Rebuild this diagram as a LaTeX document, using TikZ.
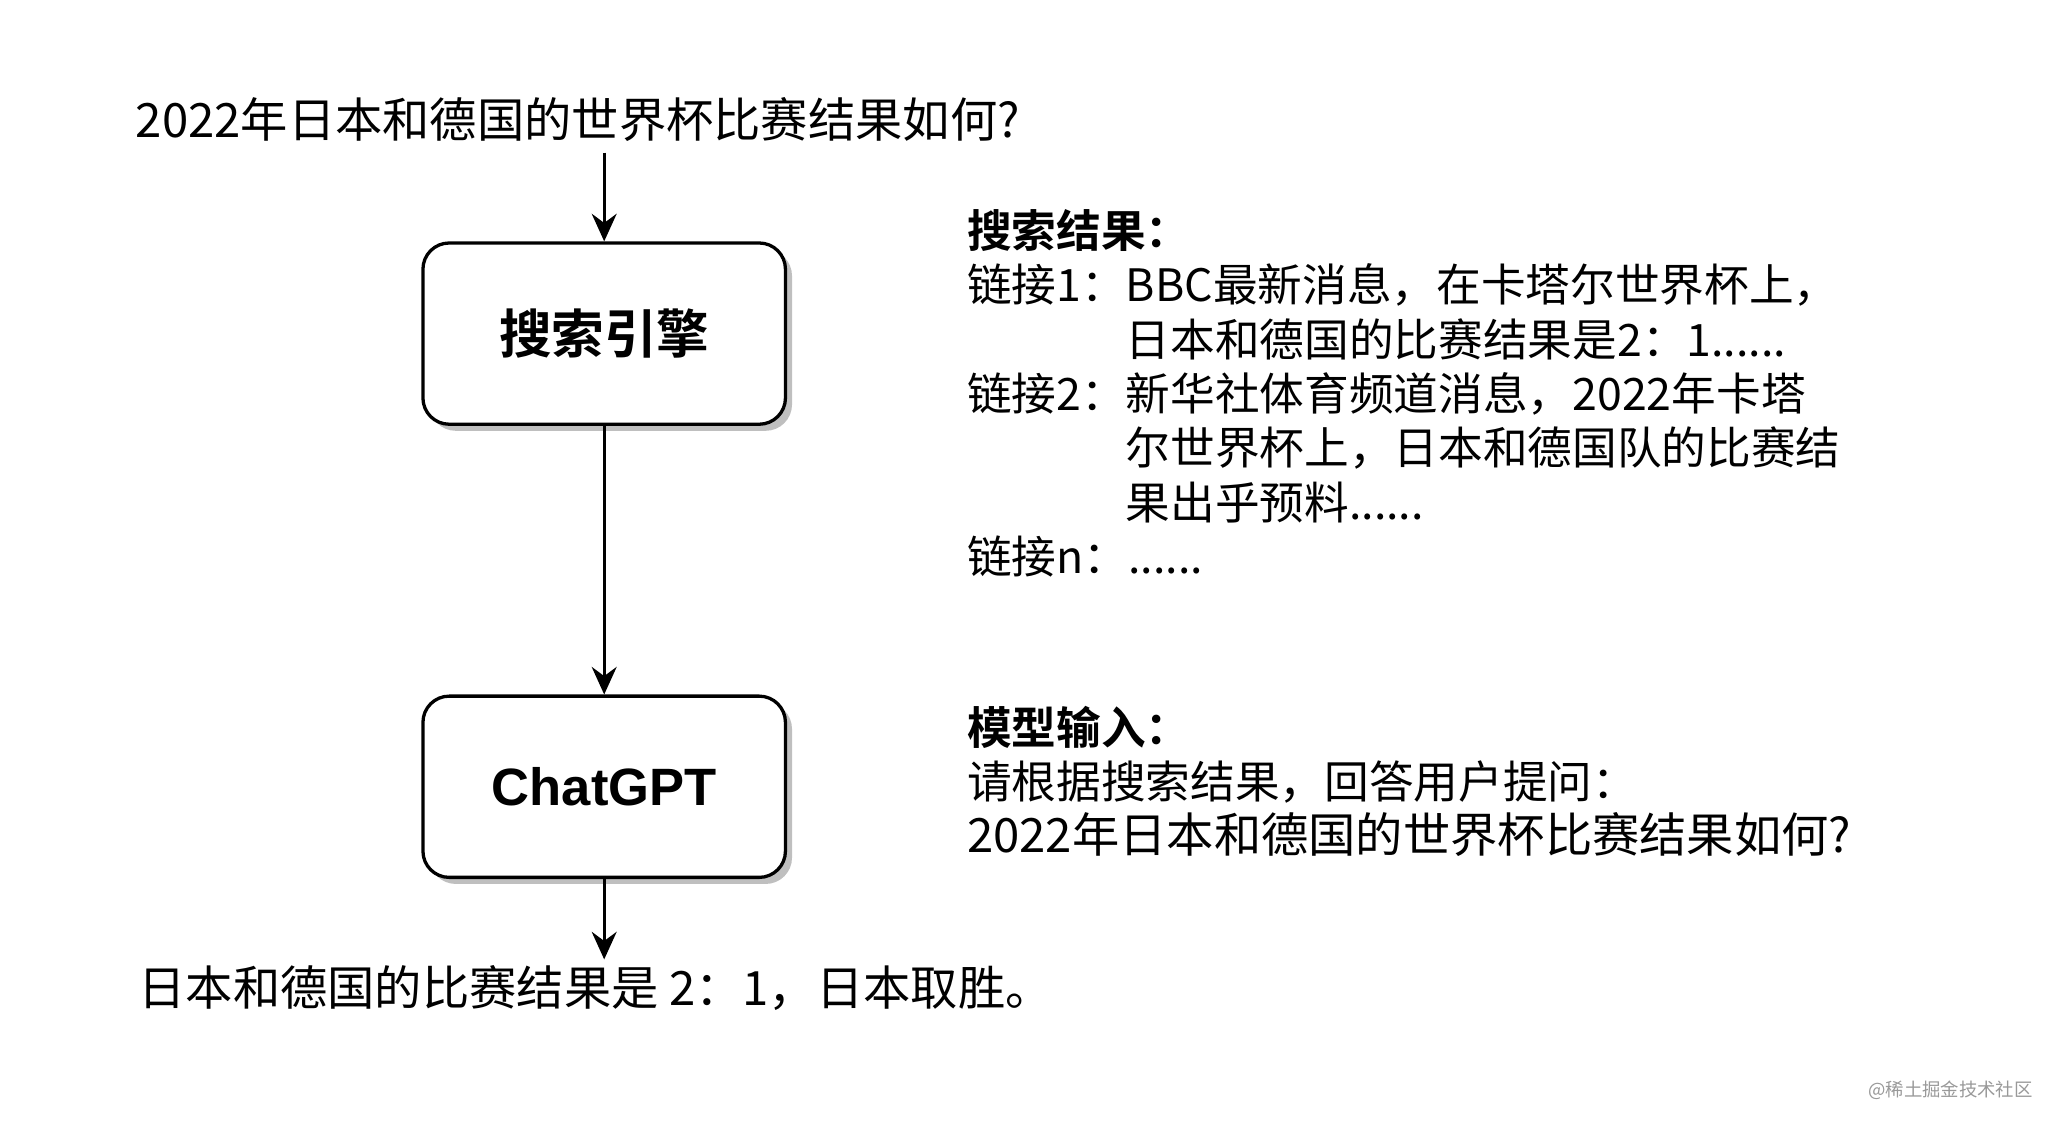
\documentclass[tikz,border=0pt]{standalone}
\usepackage{fontspec}
\setmainfont{Noto Sans CJK SC}[BoldFont=* Bold]
\newfontfamily\latinfont{Liberation Sans}
\usetikzlibrary{arrows.meta,shadows}

\tikzset{
  flowbox/.style={draw,line width=1.25pt,rounded corners=10pt,fill=white,
    minimum width=138pt,minimum height=69pt,
    drop shadow={shadow xshift=2.5pt,shadow yshift=-2.5pt,fill=black!25,opacity=1},
    font=\fontsize{20}{24}\selectfont\bfseries},
  flowarrow/.style={line width=1pt,-{Stealth[length=10.5pt,width=9.5pt,inset=3.5pt]}},
  plaintext/.style={inner sep=0pt,anchor=west,font=\fontsize{18}{22}\selectfont},
  notetext/.style={inner sep=0pt,anchor=north west,align=left,font=\fontsize{17}{20.7}\selectfont},
}

\begin{document}
\begin{tikzpicture}[x=0.5pt,y=0.5pt,yscale=-1,xscale=1]
\useasboundingbox (0,0) rectangle (1560,854.2);

% Text Node
\node[plaintext] (question) at (103,91) {2022年日本和德国的世界杯比赛结果如何?};
% Rounded Rect
\node[flowbox] (search) at (460,254) {搜索引擎};
% Rounded Rect
\node[flowbox] (chatgpt) at (460,599) {{\latinfont ChatGPT}};
% Text Node
\node[plaintext] (answer) at (105,752) {日本和德国的比赛结果是 2：1，日本取胜。};

% Text Node
\node[notetext] (results) at (736,159) {\textbf{搜索结果：}\\
链接1：BBC最新消息，在卡塔尔世界杯上，\\
\hphantom{链接1：}日本和德国的比赛结果是2：1......\\
链接2：新华社体育频道消息，2022年卡塔\\
\hphantom{链接2：}尔世界杯上，日本和德国队的比赛结\\
\hphantom{链接2：}果出乎预料......\\
链接n：......};
% Text Node
\node[notetext] (prompt) at (736,537) {\textbf{模型输入：}\\
请根据搜索结果，回答用户提问：\\
{\fontsize{18}{20.7}\selectfont 2022年日本和德国的世界杯比赛结果如何?}};

% Text Node
\node[inner sep=0pt,anchor=east,text=black!40,font=\fontsize{7}{8}\selectfont] (mark) at (1548,830) {@稀土掘金技术社区};

%Straight Lines
\draw[flowarrow,shorten <=4pt] (search.north |- question.south) -- (search.north);
%Straight Lines
\draw[flowarrow] (search) -- (chatgpt);
%Straight Lines
\draw[flowarrow,shorten >=2pt] (chatgpt.south) -- (chatgpt.south |- answer.north);

\end{tikzpicture}
\end{document}
